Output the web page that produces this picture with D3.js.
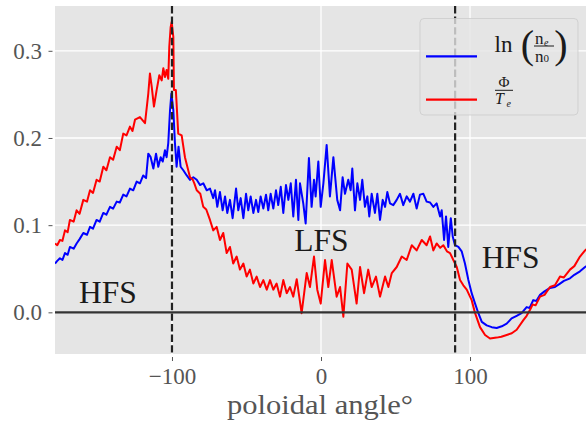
<!DOCTYPE html>
<html><head><meta charset="utf-8">
<script src="https://cdn.jsdelivr.net/npm/d3@7"></script>
<style>body{margin:0;background:#fff}svg{display:block}</style>
</head><body>
<svg id="c" width="586" height="422"></svg>
<script>
// ---- data ----
const phiAngle = [-178.5,-177.0,-175.2,-173.5,-171.8,-170.0,-168.5,-166.0,-164.0,-162.0,-159.5,-157.0,-155.0,-153.0,-150.6,-148.5,-146.1,-144.0,-141.6,-139.5,-137.1,-135.0,-132.7,-130.5,-128.2,-126.5,-124.8,-121.5,-118.1,-115.9,-114.8,-113.6,-112.1,-110.3,-108.5,-106.9,-105.8,-104.7,-103.6,-102.5,-101.8,-100.9,-100.2,-99.1,-98.7,-97.4,-95.8,-93.5,-91.3,-89.1,-87.9,-86.0,-85.0,-83.4,-81.0,-79.0,-77.0,-74.5,-72.3,-70.0,-67.8,-65.6,-63.3,-61.1,-58.9,-56.6,-54.4,-52.1,-49.9,-47.7,-45.4,-43.2,-40.9,-38.7,-36.4,-34.2,-32.0,-29.8,-27.5,-25.3,-23.0,-20.8,-18.6,-16.3,-13.0,-9.6,-7.4,-4.7,-2.5,-0.2,2.7,4.9,7.2,10.5,12.8,15.0,17.7,20.6,23.9,26.2,28.9,31.7,34.0,36.9,39.6,43.0,45.2,47.5,50.8,54.2,57.5,60.9,64.2,67.6,70.9,73.2,75.4,77.6,80.0,82.1,84.5,86.6,88.8,91.1,93.3,95.5,97.8,101.1,103.4,106.7,110.1,113.4,117.9,121.0,124.6,128.0,131.3,135.8,138.0,140.3,142.0,144.0,147.0,150.0,153.7,157.0,160.4,163.0,167.1,170.0,173.8,177.2,180];
const phiValue = [0.079,0.077,0.083,0.082,0.094,0.092,0.106,0.104,0.117,0.113,0.129,0.127,0.140,0.137,0.152,0.150,0.167,0.163,0.178,0.175,0.190,0.186,0.205,0.203,0.213,0.208,0.221,0.224,0.217,0.251,0.274,0.259,0.236,0.255,0.272,0.266,0.280,0.270,0.278,0.268,0.305,0.327,0.333,0.316,0.255,0.255,0.205,0.203,0.178,0.163,0.155,0.152,0.148,0.140,0.136,0.121,0.118,0.106,0.094,0.098,0.083,0.091,0.068,0.075,0.056,0.064,0.049,0.056,0.041,0.049,0.033,0.041,0.029,0.037,0.026,0.037,0.026,0.033,0.018,0.037,0.022,0.029,0.018,0.038,-0.001,0.045,0.029,0.064,0.026,0.010,0.060,0.029,0.060,0.018,0.029,-0.005,0.056,0.049,0.010,0.052,0.022,0.049,0.029,0.041,0.018,0.041,0.029,0.045,0.052,0.064,0.060,0.077,0.071,0.083,0.077,0.087,0.071,0.079,0.074,0.077,0.070,0.068,0.060,0.052,0.037,0.031,0.026,0.014,-0.001,-0.017,-0.026,-0.030,-0.029,-0.028,-0.026,-0.024,-0.020,-0.009,-0.004,0.003,0.009,0.008,0.018,0.020,0.029,0.031,0.041,0.040,0.049,0.053,0.064,0.071,0.075];

const lnAngle = [-178.5,-177.0,-175.2,-173.5,-171.8,-170.0,-168.5,-166.0,-164.0,-162.0,-159.5,-157.0,-155.0,-153.0,-150.6,-148.5,-146.1,-144.0,-141.6,-139.5,-137.1,-135.0,-132.7,-130.5,-128.2,-126.0,-123.7,-121.5,-119.3,-117.4,-115.9,-114.3,-112.5,-110.7,-109.2,-107.6,-106.2,-104.7,-103.6,-102.5,-101.3,-100.4,-99.1,-98.0,-96.9,-95.6,-94.2,-92.4,-90.1,-87.9,-85.7,-83.4,-81.2,-79.0,-76.7,-74.5,-72.3,-71.1,-69.6,-67.8,-66.0,-64.4,-62.9,-61.1,-59.3,-57.0,-55.5,-53.9,-52.1,-50.3,-48.8,-47.2,-45.4,-43.6,-42.1,-40.5,-38.7,-36.9,-35.4,-33.8,-32.0,-30.2,-28.7,-27.0,-25.3,-23.5,-21.9,-20.3,-18.6,-16.8,-15.2,-14.1,-11.9,-10.3,-8.1,-6.3,-4.7,-3.6,-1.8,-0.2,1.6,3.8,6.0,8.3,10.9,12.8,14.5,16.1,18.3,19.9,21.0,22.8,24.4,26.2,27.7,29.5,31.1,32.4,34.0,36.2,37.8,39.6,41.4,43.0,44.5,46.3,48.5,50.8,53.0,55.2,57.5,59.7,62.0,64.2,66.4,68.7,70.9,73.2,75.4,77.6,79.9,81.0,82.6,83.9,85.4,87.1,88.4,89.9,92.2,94.4,96.6,98.9,101.1,103.4,105.6,107.9,111.2,114.6,117.9,121.3,124.6,127.9,131.3,134.6,138.0,140.0,142.4,144.5,147.0,150.0,153.7,157.0,160.4,163.0,167.1,170.0,173.8,177.2,180];
const lnValue = [0.056,0.059,0.062,0.060,0.068,0.066,0.075,0.073,0.079,0.084,0.091,0.089,0.098,0.096,0.106,0.104,0.114,0.112,0.121,0.119,0.127,0.126,0.135,0.133,0.142,0.140,0.150,0.148,0.157,0.154,0.182,0.178,0.165,0.182,0.167,0.178,0.173,0.186,0.178,0.194,0.232,0.251,0.232,0.194,0.167,0.190,0.167,0.163,0.157,0.152,0.155,0.152,0.146,0.148,0.140,0.142,0.131,0.140,0.121,0.138,0.117,0.133,0.114,0.129,0.108,0.142,0.117,0.131,0.108,0.136,0.117,0.133,0.114,0.129,0.115,0.133,0.119,0.135,0.117,0.136,0.119,0.140,0.123,0.144,0.114,0.146,0.129,0.148,0.110,0.152,0.106,0.148,0.125,0.102,0.177,0.121,0.152,0.133,0.173,0.121,0.148,0.192,0.133,0.178,0.129,0.117,0.155,0.136,0.152,0.140,0.165,0.117,0.148,0.129,0.152,0.121,0.133,0.110,0.136,0.114,0.136,0.106,0.129,0.121,0.138,0.125,0.123,0.129,0.136,0.123,0.133,0.127,0.136,0.119,0.135,0.136,0.127,0.126,0.121,0.125,0.110,0.117,0.083,0.110,0.075,0.108,0.087,0.077,0.075,0.070,0.056,0.037,0.022,0.010,-0.001,-0.011,-0.015,-0.017,-0.018,-0.016,-0.013,-0.007,-0.004,-0.001,0.006,0.005,0.014,0.013,0.020,0.024,0.028,0.029,0.033,0.036,0.039,0.043,0.047,0.052,0.055];

const xTicks = [-100, 0, 100];
const yTicks = [0.0, 0.1, 0.2, 0.3];
const separatrixAngles = [-100, 90];
const regionNames = ["HFS", "LFS", "HFS"];
const regionAngle = [-162.4, -17.9, 107.9];
const regionValue = [0.0103, 0.0703, 0.0505];

// ---- drawing ----
const svg = d3.select("#c");
const serif = "'Liberation Serif', 'DejaVu Serif', serif";
const L = 55, T = 6, R = 587, B = 354;
const x = d3.scaleLinear().domain([-178.5, 178.5]).range([L, R]);
const y = d3.scaleLinear().domain([-0.0478, 0.3514]).range([B, T]);

svg.append("defs").append("clipPath").attr("id", "clip")
  .append("rect").attr("x", L).attr("y", T).attr("width", R - L).attr("height", B - T);

svg.append("rect").attr("x", L).attr("y", T).attr("width", R - L).attr("height", B - T).attr("fill", "#E5E5E5");

const grid = svg.append("g").attr("stroke", "#fff").attr("stroke-width", 1.3);
grid.selectAll("line.v").data(xTicks).join("line").attr("class", "v")
  .attr("x1", d => x(d)).attr("x2", d => x(d)).attr("y1", T).attr("y2", B);
grid.selectAll("line.h").data(yTicks).join("line").attr("class", "h")
  .attr("x1", L).attr("x2", R).attr("y1", d => y(d)).attr("y2", d => y(d));

const plot = svg.append("g").attr("clip-path", "url(#clip)");
const lnData = lnAngle.map((a, i) => [a, lnValue[i]]);
const phiData = phiAngle.map((a, i) => [a, phiValue[i]]);
const line = d3.line().x(d => x(d[0])).y(d => y(d[1]));
plot.append("path").attr("d", line(lnData)).attr("fill", "none").attr("stroke", "#0000ff")
  .attr("stroke-width", 2).attr("stroke-linejoin", "round");
plot.append("path").attr("d", line(phiData)).attr("fill", "none").attr("stroke", "#ff0000")
  .attr("stroke-width", 2).attr("stroke-linejoin", "round");

plot.append("line").attr("x1", L).attr("x2", R).attr("y1", y(0)).attr("y2", y(0))
  .attr("stroke", "#333").attr("stroke-width", 2.4);
plot.selectAll("line.sep").data(separatrixAngles).join("line").attr("class", "sep")
  .attr("x1", d => x(d)).attr("x2", d => x(d)).attr("y1", T).attr("y2", B)
  .attr("stroke", "#222").attr("stroke-width", 2.2).attr("stroke-dasharray", "7.4,3.2");

// axes
const xAxis = svg.append("g").attr("transform", `translate(0,${B + 3})`)
  .call(d3.axisBottom(x).tickValues(xTicks).tickSize(4).tickPadding(6.5)
    .tickFormat(d => d < 0 ? "\u2212" + Math.abs(d) : String(d)));
const yAxis = svg.append("g").attr("transform", `translate(${L - 2.5},0)`)
  .call(d3.axisLeft(y).tickValues(yTicks).tickSize(4).tickPadding(6.5).tickFormat(d3.format(".1f")));
[xAxis, yAxis].forEach(g => {
  g.attr("font-family", null).attr("font-size", null);
  g.select(".domain").remove();
  g.selectAll(".tick line").attr("stroke", "#555");
  g.selectAll(".tick text").attr("fill", "#555").attr("font-family", serif).attr("font-size", 23)
    .style("font-family", serif).style("font-size", "23px");
});

svg.append("text").attr("x", 320).attr("y", 413.5).attr("text-anchor", "middle")
  .attr("fill", "#555").style("font-family", serif).style("font-size", "27px")
  .attr("textLength", 186).attr("lengthAdjust", "spacingAndGlyphs")
  .text("poloidal angle°");

// region labels
svg.selectAll("text.region").data(regionNames).join("text").attr("class", "region")
  .attr("x", (d, i) => x(regionAngle[i])).attr("y", (d, i) => y(regionValue[i]))
  .attr("fill", "#1a1a1a").style("font-family", serif).style("font-size", "31.5px")
  .text(d => d);

// legend
const lg = svg.append("g");
lg.append("rect").attr("x", 420).attr("y", 18.5).attr("width", 158).attr("height", 96.5).attr("rx", 4)
  .attr("fill", "#E5E5E5").attr("fill-opacity", 0.8).attr("stroke", "#cccccc").attr("stroke-opacity", 0.8);
lg.append("line").attr("x1", 426).attr("x2", 477).attr("y1", 56.3).attr("y2", 56.3)
  .attr("stroke", "#0000ff").attr("stroke-width", 2.2);
lg.append("line").attr("x1", 426).attr("x2", 477).attr("y1", 99.7).attr("y2", 99.7)
  .attr("stroke", "#ff0000").attr("stroke-width", 2.2);
const tx = (xx, yy, s, size, opts = {}) => {
  const t = lg.append("text").attr("x", xx).attr("y", yy).attr("fill", "#1a1a1a")
    .style("font-family", serif).style("font-size", size + "px").text(s);
  if (opts.anchor) t.attr("text-anchor", opts.anchor);
  if (opts.italic) t.style("font-style", "italic");
  return t;
};
tx(494.5, 52, "ln", 23);
tx(527.5, 58, "(", 40, {anchor: "middle"});
tx(561, 58, ")", 40, {anchor: "middle"});
tx(535, 43.5, "n", 17);
tx(544, 45.5, "e", 10, {italic: true});
lg.append("line").attr("x1", 534).attr("x2", 554).attr("y1", 46).attr("y2", 46).attr("stroke", "#1a1a1a").attr("stroke-width", 1);
tx(535, 61.5, "n", 17);
tx(543.5, 62, "0", 11);
tx(504, 87, "Φ", 15, {anchor: "middle"});
lg.append("line").attr("x1", 495).attr("x2", 513).attr("y1", 90.3).attr("y2", 90.3).attr("stroke", "#1a1a1a").attr("stroke-width", 1);
tx(495, 103.5, "T", 16, {italic: true});
tx(506.5, 106.5, "e", 10, {italic: true});
</script>
</body></html>
